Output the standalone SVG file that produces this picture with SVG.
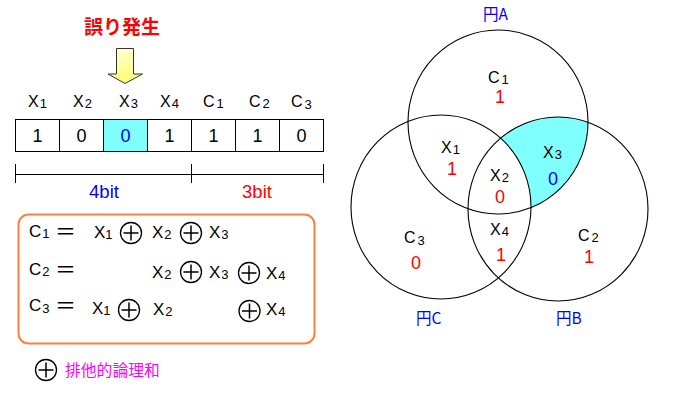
<svg xmlns="http://www.w3.org/2000/svg" width="691" height="418" viewBox="0 0 691 418">
<defs>
<linearGradient id="yel" x1="0" y1="0" x2="0" y2="1">
<stop offset="0" stop-color="#ffffd0"/>
<stop offset="1" stop-color="#ffff70"/>
</linearGradient>
<g id="xor">
<circle cx="0" cy="0" r="10.5" fill="none" stroke="#000" stroke-width="1.3"/>
<path d="M0,-7.5V7.5M-7.5,0H7.5" stroke="#000" stroke-width="1.5"/>
</g>
</defs>
<style>
text{font-family:"Liberation Sans","Noto Sans CJK JP",sans-serif;fill:#000}
.lab{font-size:16px}
.sub{font-size:13px}
.num{font-size:18px;text-anchor:middle}
.red{fill:#ff0000}
.blue{fill:#0000ff}
.cell{fill:#fff;stroke:#000;stroke-width:1}
.circ{fill:none;stroke:#000;stroke-width:1.1}
.eq{font-size:17px}
.eqs{font-size:21px}
.cjk{font-family:"Noto Sans CJK JP",sans-serif}
</style>
<rect width="691" height="418" fill="#fff"/>

<g id="title">
<text x="84" y="34" class="cjk red" font-size="19" font-weight="bold">誤り発生</text>
</g>
<g id="connectors">
<polygon points="116.5,48.5 133.5,48.5 133.5,74 142.5,74 125,83.5 108,74 116.5,74" fill="url(#yel)" stroke="#333" stroke-width="1"/>
</g>

<g id="header" class="lab">
<text x="28" y="107">X<tspan class="sub" dy="1" dx="1">1</tspan></text>
<text x="73" y="107">X<tspan class="sub" dy="1" dx="1">2</tspan></text>
<text x="119" y="107">X<tspan class="sub" dy="1" dx="1">3</tspan></text>
<text x="160" y="107">X<tspan class="sub" dy="1" dx="1">4</tspan></text>
<text x="203" y="107">C<tspan class="sub" dy="1" dx="2">1</tspan></text>
<text x="249" y="107">C<tspan class="sub" dy="1" dx="2">2</tspan></text>
<text x="291" y="107">C<tspan class="sub" dy="2" dx="2">3</tspan></text>
</g>

<g id="codeword">
<rect class="cell" x="15.5" y="119.5" width="44" height="32"/>
<rect class="cell" x="59.5" y="119.5" width="44" height="32"/>
<rect class="cell" x="103.5" y="119.5" width="44" height="32" style="fill:#80ffff"/>
<rect class="cell" x="147.5" y="119.5" width="44" height="32"/>
<rect class="cell" x="191.5" y="119.5" width="44" height="32"/>
<rect class="cell" x="235.5" y="119.5" width="44" height="32"/>
<rect class="cell" x="279.5" y="119.5" width="44" height="32"/>
<text class="num" x="37.5" y="142">1</text>
<text class="num" x="81.5" y="142">0</text>
<text class="num blue" x="125.5" y="142">0</text>
<text class="num" x="169.5" y="142">1</text>
<text class="num" x="213.5" y="142">1</text>
<text class="num" x="257.5" y="142">1</text>
<text class="num" x="301.5" y="142">0</text>
</g>

<g id="bitspan">
<path d="M15.5,174.5H323.5M15.5,164V183M191.5,164V183M323.5,164V183" stroke="#000" stroke-width="1" fill="none"/>
<text x="104" y="198" class="blue" font-size="18.5" text-anchor="middle">4bit</text>
<text x="257" y="198" class="red" font-size="18.5" text-anchor="middle">3bit</text>
</g>

<g id="equations">
<rect x="18.5" y="214.5" width="296" height="129" rx="10" ry="10" fill="#fff" stroke="#ff8040" stroke-width="2"/>
<text class="eq" x="29" y="237">C<tspan class="sub" dy="1" dx="1">1</tspan></text>
<text class="eqs" x="55" y="239">＝</text>
<text class="eq" x="94" y="238">X<tspan class="sub" dy="1">1</tspan></text>
<use href="#xor" x="131" y="233"/>
<text class="eq" x="152" y="238">X<tspan class="sub" dy="1" dx="1">2</tspan></text>
<use href="#xor" x="191" y="233"/>
<text class="eq" x="209" y="238">X<tspan class="sub" dy="1" dx="1">3</tspan></text>

<text class="eq" x="29" y="275">C<tspan class="sub" dy="1" dx="1">2</tspan></text>
<text class="eqs" x="55" y="277">＝</text>
<text class="eq" x="152" y="278">X<tspan class="sub" dy="1" dx="1">2</tspan></text>
<use href="#xor" x="191" y="272"/>
<text class="eq" x="209" y="278">X<tspan class="sub" dy="1" dx="1">3</tspan></text>
<use href="#xor" x="249" y="273"/>
<text class="eq" x="266" y="279">X<tspan class="sub" dy="1" dx="1">4</tspan></text>

<text class="eq" x="29" y="311">C<tspan class="sub" dy="2" dx="1">3</tspan></text>
<text class="eqs" x="55" y="313">＝</text>
<text class="eq" x="92" y="314">X<tspan class="sub" dy="1">1</tspan></text>
<use href="#xor" x="129" y="310"/>
<text class="eq" x="153" y="315">X<tspan class="sub" dy="1" dx="1">2</tspan></text>
<use href="#xor" x="249.5" y="311"/>
<text class="eq" x="266" y="315">X<tspan class="sub" dy="1" dx="1">4</tspan></text>
</g>

<g id="legend">
<use href="#xor" x="46" y="370"/>
<text x="65" y="376" class="cjk" font-size="15.8" style="fill:#ff00ff">排他的論理和</text>
</g>

<g id="venn">
<path id="x3-region" d="M501,138 A90,92 0 0 1 588,122 A90,92 0 0 1 531,208 A90,92 0 0 0 501,138 Z" fill="#80ffff"/>
<ellipse id="circleA" class="circ" cx="498" cy="122" rx="90" ry="92"/>
<ellipse id="circleC" class="circ" cx="441" cy="207" rx="90" ry="92"/>
<ellipse id="circleB" class="circ" cx="558" cy="209" rx="90" ry="92"/>
</g>

<g id="venn-labels">
<text x="483" y="20" class="cjk blue" font-size="15.5">円A</text>
<text x="416" y="324" class="cjk blue" font-size="15.5">円C</text>
<text x="556" y="324" class="cjk blue" font-size="15.5">円B</text>

<text x="488" y="83" class="lab" font-size="17">C<tspan class="sub" dy="1" dx="2">1</tspan></text>
<text class="num red" x="500" y="103">1</text>

<text x="441" y="153" class="lab" font-size="17">X<tspan class="sub" dy="1" dx="1">1</tspan></text>
<text class="num red" x="452" y="175">1</text>

<text x="543" y="158" class="lab" font-size="17">X<tspan class="sub" dy="1" dx="1">3</tspan></text>
<text class="num blue" x="553" y="185">0</text>

<text x="490" y="181" class="lab" font-size="17">X<tspan class="sub" dy="1" dx="1">2</tspan></text>
<text class="num red" x="500" y="203">0</text>

<text x="490" y="235" class="lab" font-size="17">X<tspan class="sub" dy="1" dx="1">4</tspan></text>
<text class="num red" x="501" y="261">1</text>

<text x="404" y="243" class="lab" font-size="17">C<tspan class="sub" dy="2" dx="2">3</tspan></text>
<text class="num red" x="416" y="269">0</text>

<text x="578" y="241" class="lab" font-size="17">C<tspan class="sub" dy="1" dx="2">2</tspan></text>
<text class="num red" x="589" y="263">1</text>
</g>
</svg>
